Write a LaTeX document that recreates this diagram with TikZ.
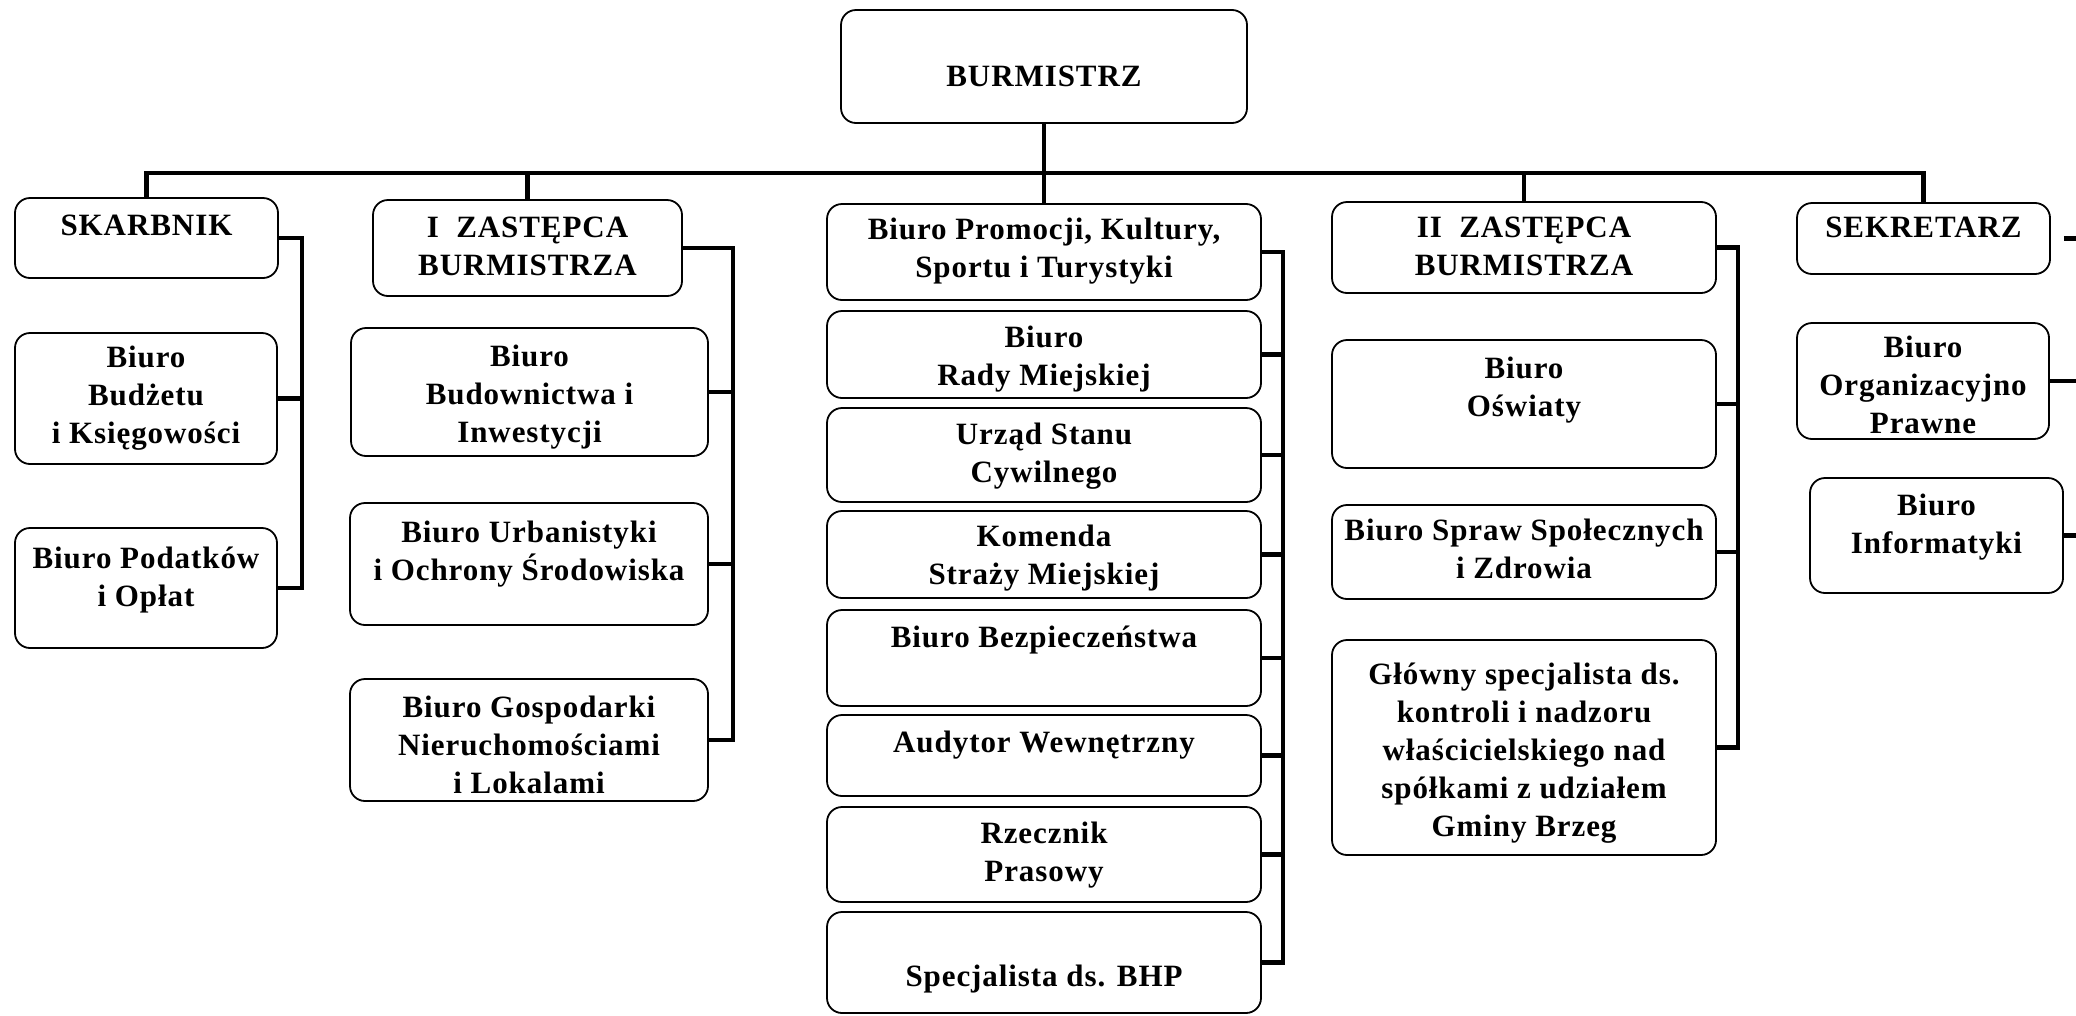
\documentclass[tikz,border=0pt]{standalone}
\usepackage{fontspec}
\setmainfont{Liberation Serif}[LetterSpace=3]
\tikzset{
  orgbox/.style={draw=black, line width=1.8pt, rounded corners=15pt, inner sep=0pt},
  lbl/.style={align=center, inner sep=0pt, font=\fontsize{31}{38}\selectfont\bfseries},
  conn/.style={line width=4.5pt, line join=miter},
}
\newcommand\bx[5]{\node[orgbox, minimum width={#4-#2}, minimum height={#5-#3}] (#1) at ({(#2+#4)/2},{(#3+#5)/2}) {};}
\newcommand\tx[4]{\node[lbl] (#1) at (#2,{#3+2.7}) {#4};}
\begin{document}
\begin{tikzpicture}[x=1pt,y=-1pt]
\useasboundingbox (0,0) rectangle (2076,1015);
% boxes
\bx{burm}{841}{10}{1247}{123}
\bx{skarb}{15}{198}{278}{278}
\bx{budz}{15}{333}{277}{464}
\bx{podat}{15}{528}{277}{648}
\bx{zastA}{373}{200}{682}{296}
\bx{budow}{351}{328}{708}{456}
\bx{urban}{350}{503}{708}{625}
\bx{gosp}{350}{679}{708}{801}
\bx{promo}{827}{204}{1261}{300}
\bx{rady}{827}{311}{1261}{398}
\bx{usc}{827}{408}{1261}{502}
\bx{kom}{827}{511}{1261}{598}
\bx{bezp}{827}{610}{1261}{706}
\bx{aud}{827}{715}{1261}{796}
\bx{rzecz}{827}{807}{1261}{902}
\bx{bhp}{827}{912}{1261}{1013}
\bx{zastB}{1332}{202}{1716}{293}
\bx{oswi}{1332}{340}{1716}{468}
\bx{spraw}{1332}{505}{1716}{599}
\bx{glow}{1332}{640}{1716}{855}
\bx{sek}{1797}{203}{2050}{274}
\bx{org}{1797}{323}{2049}{439}
\bx{inf}{1810}{478}{2063}{593}
% texts
\tx{t-burm}{1044}{76}{\strut BURMISTRZ}
\tx{t-skarb}{146.5}{225}{\strut SKARBNIK}
\tx{t-budz}{146}{395}{\strut Biuro\\\strut Budżetu\\\strut i Księgowości}
\tx{t-podat}{146}{577}{\strut Biuro Podatków\\\strut i Opłat}
\tx{t-zastA}{527.5}{246}{\strut I\ \ ZASTĘPCA\\\strut BURMISTRZA}
\tx{t-budow}{529.5}{394}{\strut Biuro\\\strut Budownictwa i\\\strut Inwestycji}
\tx{t-urban}{529}{551}{\strut Biuro Urbanistyki\\\strut i Ochrony Środowiska}
\tx{t-gosp}{529}{745}{\strut Biuro Gospodarki\\\strut Nieruchomościami\\\strut i Lokalami}
\tx{t-promo}{1044}{248}{\strut Biuro Promocji, Kultury,\\\strut Sportu i Turystyki}
\tx{t-rady}{1044}{355.7}{\strut Biuro\\\strut Rady Miejskiej}
\tx{t-usc}{1044}{453}{\strut Urząd Stanu\\\strut Cywilnego}
\tx{t-kom}{1044}{555}{\strut Komenda\\\strut Straży Miejskiej}
\tx{t-bezp}{1044}{637}{\strut Biuro Bezpieczeństwa}
\tx{t-aud}{1044}{742.5}{\strut Audytor Wewnętrzny}
\tx{t-rzecz}{1044}{852}{\strut Rzecznik\\\strut Prasowy}
\tx{t-bhp}{1044}{976}{\strut Specjalista ds. BHP}
\tx{t-zastB}{1524}{246}{\strut II\ \ ZASTĘPCA\\\strut BURMISTRZA}
\tx{t-oswi}{1524}{387}{\strut Biuro\\\strut Oświaty}
\tx{t-spraw}{1524}{549}{\strut Biuro Spraw Społecznych\\\strut i Zdrowia}
\tx{t-glow}{1524}{750}{\strut Główny specjalista ds.\\\strut kontroli i nadzoru\\\strut właścicielskiego nad\\\strut spółkami z udziałem\\\strut Gminy Brzeg}
\tx{t-sek}{1923.5}{227}{\strut SEKRETARZ}
\tx{t-org}{1923}{385}{\strut Biuro\\\strut Organizacyjno\\\strut Prawne}
\tx{t-inf}{1936.5}{524.5}{\strut Biuro\\\strut Informatyki}
% top-level connectors
\coordinate (busy) at (0,173);
\draw[conn] (burm.south) -- (promo.north);
\draw[conn] (skarb.north) -- (skarb.north |- busy) -- (sek.north |- busy) -- (sek.north);
\draw[conn] (zastA.north) -- (zastA.north |- busy);
\draw[conn] (zastB.north) -- (zastB.north |- busy);
% group verticals
\coordinate (g1) at (302,0);
\coordinate (g2) at (733,0);
\coordinate (g3) at (1283,0);
\coordinate (g4) at (1738,0);
\coordinate (g5) at (2082,0);
% group 1
\draw[conn] (skarb.east) -- (skarb.east -| g1) -- (podat.east -| g1) -- (podat.east);
\draw[conn] (budz.east) -- (budz.east -| g1);
% group 2
\draw[conn] (zastA.east) -- (zastA.east -| g2) -- (gosp.east -| g2) -- (gosp.east);
\draw[conn] (budow.east) -- (budow.east -| g2);
\draw[conn] (urban.east) -- (urban.east -| g2);
% group 3
\draw[conn] (promo.east) -- (promo.east -| g3) -- (bhp.east -| g3) -- (bhp.east);
\foreach \n in {rady,usc,kom,bezp,aud,rzecz}{
  \draw[conn] (\n.east) -- (\n.east -| g3);
}
% group 4
\draw[conn] (zastB.east) -- (zastB.east -| g4) -- (glow.east -| g4) -- (glow.east);
\draw[conn] (oswi.east) -- (oswi.east -| g4);
\draw[conn] (spraw.east) -- (spraw.east -| g4);
% group 5 (runs off the right edge)
\draw[conn, shorten <=13pt] (sek.east) -- (sek.east -| g5);
\draw[conn] (org.east) -- (org.east -| g5);
\draw[conn] (inf.east) -- (inf.east -| g5);
\end{tikzpicture}
\end{document}
